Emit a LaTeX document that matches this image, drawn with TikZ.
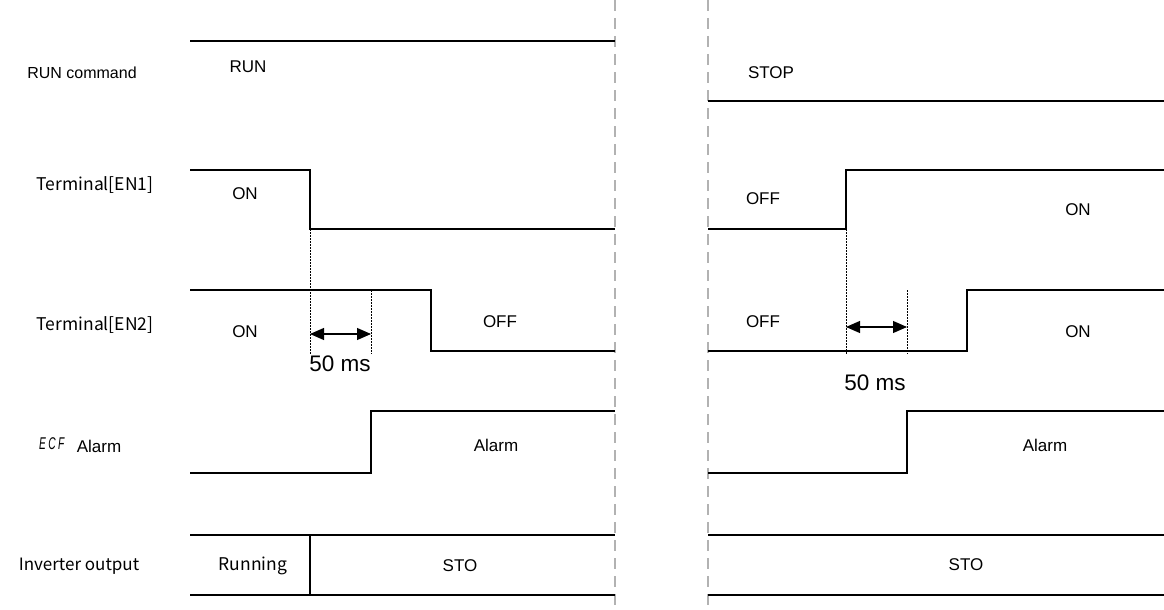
\documentclass[tikz,border=0pt]{standalone}
\usepackage{fontspec}
\setmainfont{Liberation Sans}
\newfontfamily\jpfont{Noto Sans CJK JP}
\usetikzlibrary{arrows.meta}
\begin{document}
\begin{tikzpicture}[x=1pt,y=-1pt,
  sig/.style={line width=1.2pt,black},
  sep/.style={draw=black!30,line width=1.3pt,dash pattern=on 11pt off 7pt},
  guide/.style={line width=0.8pt,dash pattern=on 1.5pt off 1.5pt},
  meas/.style={line width=1.1pt,{Triangle[length=14pt,width=12pt]}-{Triangle[length=14pt,width=12pt]}},
  lab/.style={font=\fontsize{17}{19}\selectfont,inner sep=0pt},
  side/.style={font=\jpfont\fontsize{17.5}{19}\selectfont,inner sep=0pt},
  ms/.style={font=\fontsize{22.5}{24}\selectfont,inner sep=0pt}]
\useasboundingbox (0,0) rectangle (1164,610);
% separators
\draw[sep] (615,0) -- (615,610);
\draw[sep] (708,0) -- (708,610);
% side labels
\node[lab,font=\fontsize{16}{18}\selectfont] (l1) at (82,73) {RUN command};
\node[side] (l2) at (95,185) {Terminal[EN1]};
\node[side] (l3) at (95,325) {Terminal[EN2]};
\node[inner sep=0pt,anchor=base] (l4a) at (52,449) {\scalebox{0.6}[1]{\fontsize{17}{18}\selectfont\textit{E\kern4pt C\kern4pt F}}};
\node[lab] (l4) at (99,446) {Alarm};
\node[side,font=\jpfont\fontsize{17}{19}\selectfont] (l5) at (79,566) {Inverter output};
% RUN command
\draw[sig] (190,41) -- (615,41);
\draw[sig] (708,101) -- (1164,101);
\node[lab] at (248,67) {RUN};
\node[lab] at (771,73) {STOP};
% EN1
\draw[sig] (190,170) -- (310,170) -- (310,229) -- (615,229);
\draw[sig] (708,229) -- (846,229) -- (846,170) -- (1164,170);
\node[lab] at (245,194) {ON};
\node[lab] at (763,199) {OFF};
\node[lab] at (1078,210) {ON};
% EN2
\draw[sig] (190,290) -- (431,290) -- (431,351) -- (615,351);
\draw[sig] (708,351) -- (967,351) -- (967,290) -- (1164,290);
\node[lab] at (245,332) {ON};
\node[lab] at (500,322) {OFF};
\node[lab] at (763,322) {OFF};
\node[lab] at (1078,332) {ON};
% guides left
\coordinate (ga1) at (310,229); \coordinate (ga2) at (310,354);
\coordinate (gb1) at (371,290); \coordinate (gb2) at (371,354);
\draw[guide] (ga1) -- (ga2);
\draw[guide] (gb1) -- (gb2);
\draw[meas] (310,334) -- (371,334);
\node[ms] at (340,364) {50 ms};
% guides right
\coordinate (gc1) at (846,229); \coordinate (gc2) at (846,354);
\coordinate (gd1) at (907,290); \coordinate (gd2) at (907,354);
\draw[guide] (gc1) -- (gc2);
\draw[guide] (gd1) -- (gd2);
\draw[meas] (846,327) -- (907,327);
\node[ms] at (875,383) {50 ms};
% Alarm
\draw[sig] (190,473) -- (371,473) -- (371,411) -- (615,411);
\draw[sig] (708,473) -- (907,473) -- (907,411) -- (1164,411);
\node[lab] at (496,445) {Alarm};
\node[lab] at (1045,445) {Alarm};
% Inverter output
\draw[sig] (190,535) -- (615,535);
\draw[sig] (190,595) -- (615,595);
\draw[sig] (310,535) -- (310,595);
\draw[sig] (708,535) -- (1164,535);
\draw[sig] (708,595) -- (1164,595);
\node[side] at (253,566) {Running};
\node[lab] at (460,566) {STO};
\node[lab] at (966,565) {STO};
\end{tikzpicture}
\end{document}
